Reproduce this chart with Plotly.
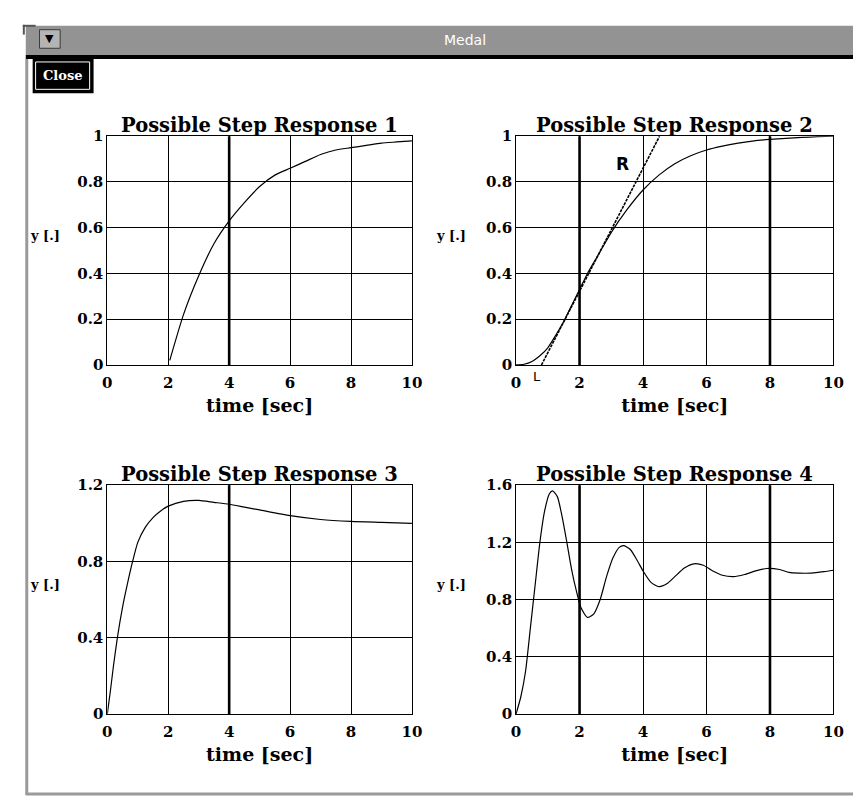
import plotly.graph_objects as go

W, H = 861, 797

# ---------------- data ----------------
time_ticks = [0, 2, 4, 6, 8, 10]

# Response 1: first order + dead time
t1 = [2.05, 2.5, 3.0, 3.5, 4.0, 4.5, 5.0, 5.5, 6.0, 6.5, 7.0, 7.5, 8.0, 8.5, 9.0, 9.5, 10.0]
y1 = [0.02, 0.22, 0.39, 0.53, 0.63, 0.71, 0.78, 0.83, 0.86, 0.89, 0.92, 0.94, 0.95, 0.96, 0.97, 0.975, 0.98]

# Response 2: S-shaped response
t2 = [0.0, 0.25, 0.5, 0.75, 1.0, 1.25, 1.5, 1.75, 2.0, 2.25, 2.5, 2.75, 3.0, 3.5, 4.0,
      4.5, 5.0, 5.5, 6.0, 6.5, 7.0, 7.5, 8.0, 8.5, 9.0, 9.5, 10.0]
y2 = [0.0, 0.003, 0.015, 0.04, 0.075, 0.13, 0.19, 0.26, 0.33, 0.40, 0.46, 0.52, 0.58, 0.68, 0.765,
      0.83, 0.88, 0.915, 0.94, 0.957, 0.97, 0.98, 0.986, 0.991, 0.995, 0.998, 1.0]
# tangent line through the inflection point (L ... R)
tangent_t = [0.8, 4.52]
tangent_y = [0.0, 1.0]

# Response 3: fast rise with small overshoot
t3 = [0.0, 0.1, 0.2, 0.33, 0.5, 0.67, 0.83, 1.0, 1.25, 1.5, 1.75, 2.0, 2.5, 3.0, 3.5,
      4.0, 4.5, 5.0, 6.0, 7.0, 8.0, 9.0, 10.0]
y3 = [0.0, 0.12, 0.25, 0.40, 0.56, 0.69, 0.80, 0.90, 0.98, 1.03, 1.065, 1.09, 1.115, 1.12, 1.11,
      1.10, 1.085, 1.07, 1.04, 1.02, 1.01, 1.005, 1.0]

# Response 4: damped oscillation
t4 = [0.0, 0.15, 0.3, 0.45, 0.6, 0.75, 0.9, 1.05, 1.15, 1.3, 1.45, 1.6, 1.75, 1.9, 2.05,
      2.25, 2.45, 2.65, 2.85, 3.05, 3.25, 3.4, 3.6, 3.8, 4.0, 4.25, 4.5, 4.75, 5.0, 5.3,
      5.6, 5.9, 6.2, 6.5, 6.85, 7.2, 7.55, 7.9, 8.3, 8.6, 8.9, 9.3, 9.7, 10.0]
y4 = [0.0, 0.12, 0.3, 0.6, 0.9, 1.2, 1.42, 1.54, 1.56, 1.52, 1.38, 1.2, 1.01, 0.86, 0.74,
      0.675, 0.70, 0.80, 0.96, 1.09, 1.165, 1.177, 1.15, 1.08, 1.0, 0.92, 0.89, 0.91, 0.96, 1.02,
      1.05, 1.04, 1.0, 0.97, 0.96, 0.975, 1.0, 1.017, 1.01, 0.99, 0.985, 0.985, 0.995, 1.005]

titles = ["Possible Step Response 1", "Possible Step Response 2",
          "Possible Step Response 3", "Possible Step Response 4"]
y_ranges = [[0, 1], [0, 1], [0, 1.2], [0, 1.6]]
y_dticks = [0.2, 0.2, 0.4, 0.4]
cursor_times = [[4], [2, 8], [4], [2, 8]]
series = [(t1, y1), (t2, y2), (t3, y3), (t4, y4)]

# ---------------- layout geometry (pixels) ----------------
panels = [
    (96, 406, 122, 356),
    (512, 835, 122, 356),
    (96, 406, 479, 713),
    (512, 835, 479, 713),
]

SERIF = "DejaVu Serif"
tickfont = dict(family=SERIF, size=15, color="black", weight="bold")
labfont = dict(family=SERIF, size=19, color="black", weight="bold")
titlefont = dict(family=SERIF, size=19.5, color="black", weight="bold")


def fx(p):
    return p / W


def fy(p):
    return 1 - p / H


fig = go.Figure()
layout = dict(
    width=W, height=H, margin=dict(l=0, r=0, t=0, b=0),
    paper_bgcolor="white", plot_bgcolor="white", showlegend=False,
)
shapes = []
annotations = []

for i, ((x0, x1, y0, y1), (tt, yy)) in enumerate(zip(panels, series), start=1):
    xs = "" if i == 1 else str(i)
    xa = dict(
        domain=[fx(x0), fx(x1)], range=[0, 10], tickvals=time_ticks,
        anchor="y" + xs, showgrid=True, gridcolor="black", gridwidth=1,
        zeroline=False, showline=True, mirror=True, linecolor="black", linewidth=1,
        ticks="", tickfont=tickfont, fixedrange=True, ticklabelstandoff=4,
        title=dict(text="time [sec]", font=labfont, standoff=7),
    )
    ya = dict(
        domain=[fy(y1), fy(y0)], range=y_ranges[i - 1], dtick=y_dticks[i - 1],
        anchor="x" + xs, showgrid=True, gridcolor="black", gridwidth=1,
        zeroline=False, showline=True, mirror=True, linecolor="black", linewidth=1,
        ticks="", tickfont=tickfont, fixedrange=True, ticklabelstandoff=0,
    )
    layout["xaxis" + xs] = xa
    layout["yaxis" + xs] = ya

    fig.add_trace(go.Scatter(
        x=tt, y=yy, mode="lines", xaxis="x" + xs, yaxis="y" + xs,
        line=dict(color="black", width=1.2, shape="spline", smoothing=0.6),
        hoverinfo="skip",
    ))

    for ct in cursor_times[i - 1]:
        shapes.append(dict(type="line", xref="x" + xs, yref="y" + xs + " domain",
                           x0=ct, x1=ct, y0=0, y1=1,
                           line=dict(color="black", width=2.6)))

    annotations.append(dict(
        text=titles[i - 1], xref="paper", yref="paper",
        x=fx((x0 + x1) / 2), y=fy(y0 - 11), xanchor="center", yanchor="middle",
        showarrow=False, font=titlefont,
    ))
    annotations.append(dict(
        text="y [.]", xref="paper", yref="paper",
        x=fx(15 if x0 < 300 else 428), y=fy((y0 + y1) / 2 - 15),
        xanchor="left", yanchor="middle", showarrow=False,
        font=dict(family=SERIF, size=13, color="black", weight="bold"),
    ))

# tangent in panel 2
fig.add_trace(go.Scatter(
    x=tangent_t, y=tangent_y, mode="lines", xaxis="x2", yaxis="y2",
    line=dict(color="black", width=1.6, dash="3px,1px"), hoverinfo="skip",
))
annotations.append(dict(text="R", xref="x2", yref="y2", x=3.35, y=0.88,
                        xanchor="center", yanchor="middle", showarrow=False,
                        font=dict(family="DejaVu Sans", size=17, color="black", weight="bold")))
annotations.append(dict(text="L", xref="x2", yref="y2 domain", x=0.66, y=-0.05,
                        xanchor="center", yanchor="middle", showarrow=False,
                        font=dict(family="DejaVu Sans", size=13, color="black")))

# ---------------- window chrome ----------------
def rect(x0, y0, x1, y1, **kw):
    return dict(type="rect", xref="paper", yref="paper",
                x0=fx(x0), x1=fx(x1), y0=fy(y1), y1=fy(y0), layer="above", **kw)


def hline(x0, x1, y, color, width):
    return dict(type="line", xref="paper", yref="paper", x0=fx(x0), x1=fx(x1),
                y0=fy(y), y1=fy(y), line=dict(color=color, width=width))


def vline(x, y0, y1, color, width):
    return dict(type="line", xref="paper", yref="paper", x0=fx(x), x1=fx(x),
                y0=fy(y0), y1=fy(y1), line=dict(color=color, width=width))


shapes += [
    rect(13, 9, 861, 39, fillcolor="#939393", line=dict(width=0)),
    rect(13, 39, 861, 43, fillcolor="black", line=dict(width=0)),
    vline(14, 43, 796, "#9a9a9a", 3),
    hline(13, 861, 795, "#9a9a9a", 3),
    vline(11, 8, 18, "#555555", 2),
    hline(10, 23, 9, "#555555", 2),
    rect(27, 13, 48, 32, fillcolor="#b4b4b4", line=dict(color="#3a3a3a", width=1)),
    rect(20, 43, 82, 78, fillcolor="black", line=dict(width=0)),
    rect(23, 46, 78, 74, fillcolor="rgba(0,0,0,0)", line=dict(color="white", width=1)),
]
annotations += [
    dict(text="▼", xref="paper", yref="paper", x=fx(37.5), y=fy(22.5), showarrow=False,
         xanchor="center", yanchor="middle",
         font=dict(family="DejaVu Sans", size=11, color="black")),
    dict(text="Medal", xref="paper", yref="paper", x=fx(460), y=fy(24), showarrow=False,
         xanchor="center", yanchor="middle",
         font=dict(family="DejaVu Sans", size=14, color="white")),
    dict(text="Close", xref="paper", yref="paper", x=fx(50.5), y=fy(60), showarrow=False,
         xanchor="center", yanchor="middle",
         font=dict(family=SERIF, size=13, color="white", weight="bold")),
]

layout["shapes"] = shapes
layout["annotations"] = annotations
fig.update_layout(**layout)
fig.write_html("out.html")
